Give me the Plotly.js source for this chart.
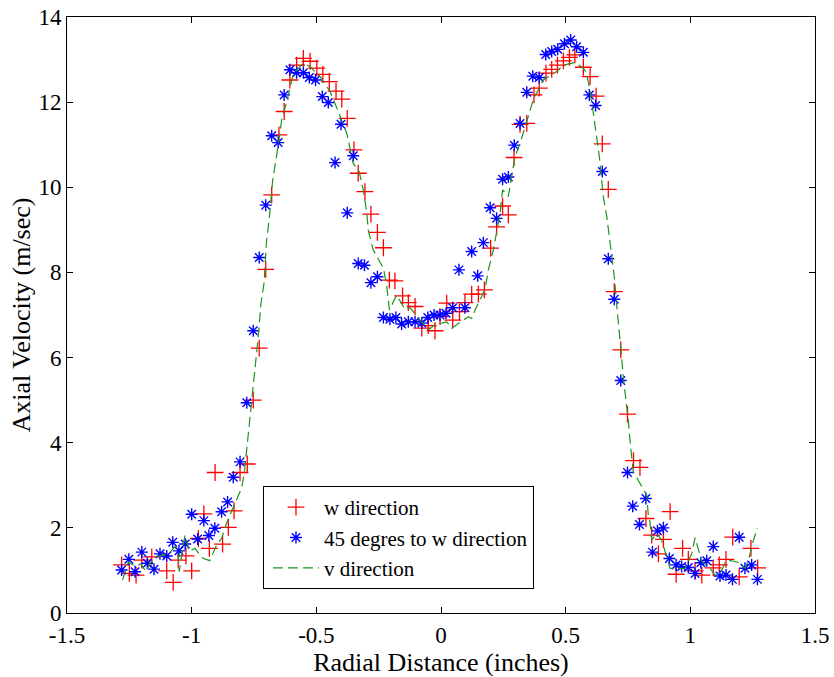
<!DOCTYPE html>
<html>
<head>
<meta charset="utf-8">
<script src="https://cdn.plot.ly/plotly-3.0.1.min.js"></script>
<style>html,body{margin:0;padding:0;background:#fff;}#chart{width:834px;height:677px;}</style>
</head>
<body>
<div id="chart"></div>
<script>
// w direction (red +)
var wX = [-1.281,-1.250,-1.223,-1.200,-1.160,-1.100,-1.074,-1.054,-1.023,-1.000,-0.973,-0.951,-0.929,-0.906,-0.876,-0.853,-0.830,-0.806,-0.777,-0.753,-0.729,-0.703,-0.679,-0.650,-0.629,-0.606,-0.579,-0.552,-0.525,-0.498,-0.474,-0.448,-0.421,-0.398,-0.376,-0.349,-0.332,-0.305,-0.281,-0.255,-0.231,-0.207,-0.185,-0.154,-0.131,-0.104,-0.077,-0.051,-0.024,-0.004,0.023,0.047,0.074,0.096,0.123,0.150,0.174,0.199,0.223,0.247,0.270,0.293,0.317,0.344,0.373,0.394,0.421,0.444,0.467,0.491,0.515,0.537,0.571,0.598,0.622,0.647,0.671,0.695,0.721,0.748,0.772,0.798,0.822,0.845,0.872,0.892,0.919,0.943,0.969,0.992,1.019,1.046,1.092,1.116,1.143,1.170,1.196,1.243,1.270];
var wY = [1.13,0.93,0.89,1.24,1.32,0.99,0.72,1.24,1.34,0.99,1.75,2.33,1.52,3.30,1.62,2.01,2.40,3.30,3.50,5.00,6.22,8.07,9.82,11.23,11.78,12.52,12.87,13.03,12.96,12.80,12.65,12.48,12.26,12.07,11.62,10.88,10.33,9.90,9.37,8.94,8.58,7.82,7.80,7.45,7.29,7.20,6.69,6.75,6.63,6.96,7.28,6.88,7.08,7.29,7.49,7.49,7.59,8.57,9.07,9.56,9.35,10.70,11.48,11.50,12.17,12.33,12.68,12.77,12.87,12.97,13.05,13.11,12.82,12.60,12.14,11.02,9.95,7.55,6.18,4.67,3.58,3.42,2.22,1.83,1.39,1.73,2.38,0.91,1.52,1.26,0.99,0.89,1.06,1.13,1.26,1.78,0.85,1.52,1.06];

// 45 degrees to w direction (blue *)
var dX = [-1.281,-1.252,-1.227,-1.200,-1.178,-1.151,-1.127,-1.100,-1.076,-1.051,-1.026,-1.000,-0.976,-0.951,-0.931,-0.907,-0.880,-0.856,-0.833,-0.806,-0.779,-0.753,-0.729,-0.703,-0.679,-0.653,-0.629,-0.606,-0.579,-0.552,-0.528,-0.503,-0.476,-0.452,-0.425,-0.401,-0.376,-0.352,-0.332,-0.307,-0.281,-0.255,-0.231,-0.205,-0.181,-0.158,-0.131,-0.104,-0.077,-0.053,-0.028,-0.004,0.020,0.047,0.072,0.096,0.123,0.147,0.170,0.197,0.223,0.247,0.270,0.294,0.317,0.344,0.368,0.394,0.420,0.444,0.468,0.495,0.520,0.544,0.571,0.595,0.620,0.647,0.671,0.695,0.721,0.748,0.769,0.796,0.822,0.848,0.868,0.892,0.916,0.943,0.965,0.992,1.019,1.042,1.066,1.092,1.119,1.143,1.169,1.196,1.219,1.246,1.269];
var dY = [1.01,1.26,0.97,1.43,1.17,1.03,1.39,1.34,1.66,1.46,1.62,2.32,1.74,2.17,1.82,1.99,2.38,2.61,3.19,3.55,4.94,6.63,8.35,9.58,11.21,11.05,12.17,12.76,12.69,12.69,12.58,12.52,12.13,11.99,10.58,11.48,9.40,10.74,8.21,8.17,7.76,7.90,6.94,6.90,6.94,6.79,6.84,6.84,6.81,6.94,7.00,7.00,7.04,7.17,8.06,7.17,8.49,7.92,8.70,9.52,9.27,10.19,10.24,10.99,11.50,12.23,12.61,12.58,13.12,13.19,13.24,13.37,13.46,13.30,13.17,12.17,11.92,10.37,8.32,7.37,5.46,3.30,2.51,2.08,2.69,1.43,1.93,2.00,1.28,1.13,1.09,1.07,0.93,1.18,1.23,1.56,0.87,0.89,0.79,1.78,1.05,1.13,0.79];

// v direction (green line)
var vX = [-1.277,-1.254,-1.228,-1.205,-1.183,-1.167,-1.140,-1.114,-1.090,-1.067,-1.054,-1.050,-1.027,-1.010,-0.987,-0.965,-0.953,-0.927,-0.900,-0.880,-0.860,-0.826,-0.800,-0.789,-0.779,-0.769,-0.759,-0.753,-0.742,-0.733,-0.722,-0.709,-0.706,-0.700,-0.689,-0.675,-0.662,-0.639,-0.617,-0.592,-0.552,-0.525,-0.485,-0.445,-0.412,-0.378,-0.352,-0.328,-0.312,-0.298,-0.292,-0.272,-0.231,-0.218,-0.207,-0.178,-0.144,-0.124,-0.084,-0.051,-0.024,0.023,0.043,0.090,0.110,0.123,0.140,0.176,0.190,0.210,0.237,0.247,0.270,0.283,0.297,0.317,0.326,0.344,0.370,0.390,0.410,0.464,0.490,0.537,0.571,0.584,0.598,0.611,0.622,0.635,0.651,0.665,0.675,0.685,0.695,0.709,0.718,0.725,0.731,0.742,0.751,0.758,0.765,0.771,0.791,0.825,0.832,0.838,0.845,0.865,0.885,0.905,0.919,0.945,0.979,1.006,1.019,1.046,1.079,1.099,1.120,1.139,1.153,1.179,1.199,1.219,1.233,1.253,1.269];
var vY = [0.78,1.20,1.10,1.15,0.97,1.17,1.32,1.36,1.40,1.56,1.36,0.97,1.83,1.45,1.52,1.35,1.28,1.23,1.60,1.75,2.11,2.58,2.93,3.28,3.83,4.38,4.93,5.24,5.86,6.49,7.27,7.78,8.13,8.72,9.25,10.17,10.64,11.58,12.05,12.68,12.91,12.83,12.60,12.25,11.78,11.27,10.56,10.37,9.94,9.43,9.00,8.53,8.10,7.70,7.12,7.47,7.13,7.17,6.88,6.65,6.77,6.84,6.69,6.88,6.96,6.92,7.16,7.59,8.06,8.53,9.39,9.94,9.78,10.25,10.72,11.03,11.20,11.58,12.05,12.29,12.52,12.72,12.87,12.93,12.80,12.68,12.25,11.74,11.27,10.72,9.78,9.31,8.84,8.37,7.90,6.96,6.49,5.98,5.55,5.04,4.53,4.06,3.59,3.32,3.12,2.77,2.26,2.14,1.71,1.87,1.71,1.32,1.05,1.05,1.05,1.40,1.77,1.21,1.05,0.89,0.93,1.17,1.24,1.21,1.17,1.05,1.24,1.71,1.99];

var xTickVals = [-1.5,-1,-0.5,0,0.5,1,1.5];
var xTickText = ["-1.5","-1","-0.5","0","0.5","1","1.5"];
var yTickVals = [0,2,4,6,8,10,12,14];
var yTickText = ["0","2","4","6","8","10","12","14"];

var serif = '"Liberation Serif", "Times New Roman", Times, serif';

var traces = [
  {x: wX, y: wY, type: 'scatter', mode: 'markers', name: 'w direction',
   marker: {symbol: 'cross-thin', size: 12, color: '#ff0000', line: {color: '#ff0000', width: 1.3}}},
  {x: dX, y: dY, type: 'scatter', mode: 'markers', name: '45 degres to w direction',
   marker: {symbol: 'asterisk', size: 10, color: '#0000ff', line: {color: '#0000ff', width: 1.4}}},
  {x: vX, y: vY, type: 'scatter', mode: 'lines', name: 'v direction',
   line: {color: '#1e941e', width: 1.2, dash: '10px,5px'}}
];

var layout = {
  width: 834, height: 677,
  margin: {l: 67, r: 19, t: 17, b: 64},
  paper_bgcolor: '#ffffff', plot_bgcolor: '#ffffff',
  font: {family: serif, size: 22, color: '#000'},
  showlegend: true,
  legend: {
    x: 0.262, y: 0.213, xanchor: 'left', yanchor: 'top',
    bgcolor: '#ffffff', bordercolor: '#000', borderwidth: 1,
    font: {family: serif, size: 21, color: '#000'},
    tracegroupgap: 0, itemwidth: 46, indentation: 4
  },
  xaxis: {
    range: [-1.5, 1.5], tickmode: 'array', tickvals: xTickVals, ticktext: xTickText,
    ticks: 'inside', ticklen: 6, tickcolor: '#000', mirror: 'ticks',
    showline: true, linecolor: '#000', linewidth: 1, showgrid: false, zeroline: false,
    ticklabelstandoff: 1,
    tickfont: {family: serif, size: 23, color: '#000'},
    title: {text: 'Radial Distance (inches)', font: {family: serif, size: 26, color: '#000'}, standoff: 0}
  },
  yaxis: {
    range: [0, 14], tickmode: 'array', tickvals: yTickVals, ticktext: yTickText,
    ticks: 'inside', ticklen: 6, tickcolor: '#000', mirror: 'ticks',
    showline: true, linecolor: '#000', linewidth: 1, showgrid: false, zeroline: false,
    tickfont: {family: serif, size: 23, color: '#000'},
    title: {text: 'Axial Velocity (m/sec)', font: {family: serif, size: 26, color: '#000'}, standoff: 0}
  }
};

Plotly.newPlot('chart', traces, layout, {displayModeBar: false, staticPlot: true});
</script>
</body>
</html>
